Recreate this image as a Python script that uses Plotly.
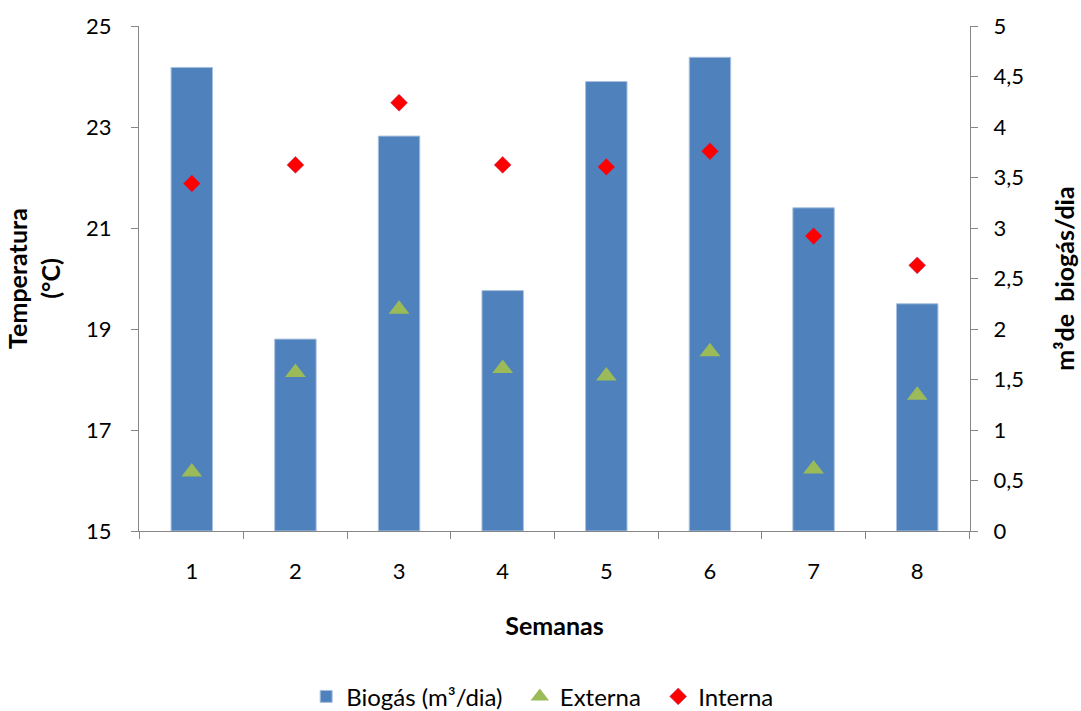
import plotly.graph_objects as go

# Weekly data
semanas = ["1", "2", "3", "4", "5", "6", "7", "8"]
biogas = [4.59, 1.90, 3.91, 2.38, 4.45, 4.69, 3.20, 2.25]          # m³/dia
externa = [16.17, 18.14, 19.39, 18.22, 18.07, 18.55, 16.23, 17.69]  # °C
interna = [21.88, 22.25, 23.48, 22.25, 22.21, 22.52, 20.84, 20.26]  # °C

FONT = "Lato, 'Open Sans', sans-serif"
AXIS_GREY = "#868686"
TICK_SIZE = 22
TITLE_SIZE = 25
PAD = "\u00a0\u00a0"  # extra room between legend entries

fig = go.Figure()

fig.add_trace(go.Bar(
    x=semanas, y=biogas, name="Biogás (m³/dia)" + PAD,
    marker=dict(color="#4F81BD", line=dict(color="#A9C1E0", width=1)),
    width=0.4, yaxis="y",
))
fig.add_trace(go.Scatter(
    x=semanas, y=externa, name="Externa" + PAD, mode="markers",
    marker=dict(symbol="triangle-up", size=18, color="#9BBB59"),
    yaxis="y2",
))
fig.add_trace(go.Scatter(
    x=semanas, y=interna, name="Interna", mode="markers",
    marker=dict(symbol="diamond", size=13, color="#FF0000",
                line=dict(color="#B0306A", width=0.5)),
    yaxis="y2",
))

fig.update_layout(
    width=1081, height=711,
    margin=dict(l=139, r=111, t=26, b=180),
    paper_bgcolor="white", plot_bgcolor="white",
    separators=",.",
    font=dict(family=FONT, size=TICK_SIZE, color="#000000"),
    showlegend=True,
    legend=dict(
        orientation="h", xref="container", x=0.502, xanchor="center",
        yref="container", y=0.02, yanchor="middle",
        font=dict(family=FONT, size=24), itemwidth=30,
    ),
    xaxis=dict(
        type="category", showline=True, linecolor=AXIS_GREY, linewidth=1,
        ticks="outside", tickson="boundaries", ticklen=7, tickcolor=AXIS_GREY,
        showgrid=False, zeroline=False, automargin=False,
        tickfont=dict(size=TICK_SIZE), ticklabelstandoff=21,
        title=dict(text="<b>Semanas</b>", font=dict(size=TITLE_SIZE), standoff=34),
    ),
    yaxis=dict(
        side="right", range=[0, 5], dtick=0.5, tick0=0,
        showline=True, linecolor=AXIS_GREY, linewidth=1,
        ticks="outside", ticklen=7, tickcolor=AXIS_GREY,
        showgrid=False, zeroline=False, automargin=False,
        tickfont=dict(size=TICK_SIZE), ticklabelstandoff=11,
        title=dict(text="<b>m³de\u00a0 biogás/dia</b>", font=dict(size=TITLE_SIZE), standoff=33),
    ),
    yaxis2=dict(
        side="left", overlaying="y", range=[15, 25], dtick=2, tick0=15,
        showline=True, linecolor=AXIS_GREY, linewidth=1,
        ticks="outside", ticklen=7, tickcolor=AXIS_GREY,
        showgrid=False, zeroline=False, automargin=False,
        tickfont=dict(size=TICK_SIZE), ticklabelstandoff=15,
        title=dict(text="<b>Temperatura<br>(°C)</b>", font=dict(size=TITLE_SIZE), standoff=18),
    ),
)

fig.write_html("out.html")
